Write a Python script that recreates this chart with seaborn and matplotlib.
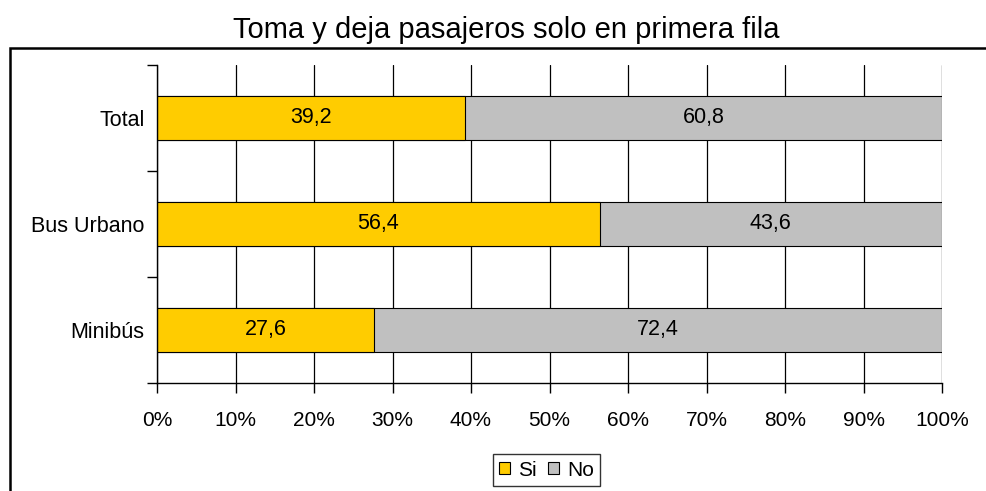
import matplotlib
matplotlib.use("Agg")
import matplotlib.pyplot as plt
import seaborn as sns
import pandas as pd
from matplotlib.patches import Rectangle, Patch
from matplotlib.ticker import FixedLocator

categories = ["Total", "Bus Urbano", "Minibús"]
si = [39.2, 56.4, 27.6]
no = [60.8, 43.6, 72.4]

df = pd.DataFrame({"cat": categories, "Si": si, "No": no})
df["acum"] = df["Si"] + df["No"]

sns.set_style("white")
plt.rcParams["font.family"] = ["Liberation Sans", "DejaVu Sans"]
plt.rcParams["text.color"] = "black"
plt.rcParams["xtick.color"] = "black"
plt.rcParams["ytick.color"] = "black"

fig = plt.figure(figsize=(9.86, 4.91), dpi=100)
ax = fig.add_axes([157 / 986, 1 - 383 / 491, (942 - 157) / 986, (383 - 65) / 491])

ax.xaxis.grid(True, color="black", linewidth=0.9)
ax.set_axisbelow(True)

sns.barplot(data=df, x="acum", y="cat", orient="h", color="#C0C0C0", saturation=1,
            width=0.42, edgecolor="black", linewidth=0.8, ax=ax)
sns.barplot(data=df, x="Si", y="cat", orient="h", color="#FFCC00", saturation=1,
            width=0.42, edgecolor="black", linewidth=0.8, ax=ax)

fmt = lambda v: f"{v:.1f}".replace(".", ",")
gray_c, yellow_c = ax.containers[0], ax.containers[1]
for rect, v in zip(yellow_c, si):
    ax.text(rect.get_x() + rect.get_width() / 2, rect.get_y() + rect.get_height() / 2,
            fmt(v), ha="center", va="center", fontsize=15.5)
for rect, s, v in zip(gray_c, si, no):
    ax.text(s + v / 2, rect.get_y() + rect.get_height() / 2,
            fmt(v), ha="center", va="center", fontsize=15.5)

ax.set_xlim(0, 100)
ax.set_ylim(2.5, -0.5)
ax.set_xticks(range(0, 101, 10))
ax.set_xticklabels([f"{t}%" for t in range(0, 101, 10)], fontsize=15)
ax.tick_params(axis="x", direction="out", length=7, width=1, pad=13, bottom=True)
ax.tick_params(axis="y", which="major", length=0, pad=9, labelsize=15.5)
ax.yaxis.set_minor_locator(FixedLocator([-0.5, 0.5, 1.5, 2.5]))
ax.tick_params(axis="y", which="minor", direction="out", length=7, width=1, left=True)
ax.set_xlabel("")
ax.set_ylabel("")

for s in ["top", "right"]:
    ax.spines[s].set_visible(False)
for s in ["left", "bottom"]:
    ax.spines[s].set_color("black")
    ax.spines[s].set_linewidth(1)

fig.text(506 / 986, 1 - 30 / 491, "Toma y deja pasajeros solo en primera fila",
         fontsize=21, ha="center", va="center")

handles = [Patch(facecolor="#FFCC00", edgecolor="black", linewidth=0.8),
           Patch(facecolor="#C0C0C0", edgecolor="black", linewidth=0.8)]
leg = fig.legend(handles, ["Si", "No"], loc="center",
                 bbox_to_anchor=(546.5 / 986, 1 - 470 / 491), ncol=2, fontsize=15,
                 frameon=True, fancybox=False, edgecolor="black", handlelength=0.5,
                 handleheight=0.5, handletextpad=0.4, columnspacing=0.55, borderpad=0.3,
                 borderaxespad=0)
leg.get_frame().set_linewidth(1)

fig.patches.append(Rectangle((10 / 986, -0.1), 1.2, 1 - 48 / 491 + 0.1, transform=fig.transFigure,
                             fill=False, edgecolor="black", linewidth=1.8, clip_on=False))

fig.savefig("out.png", dpi=100)
plt.close(fig)
